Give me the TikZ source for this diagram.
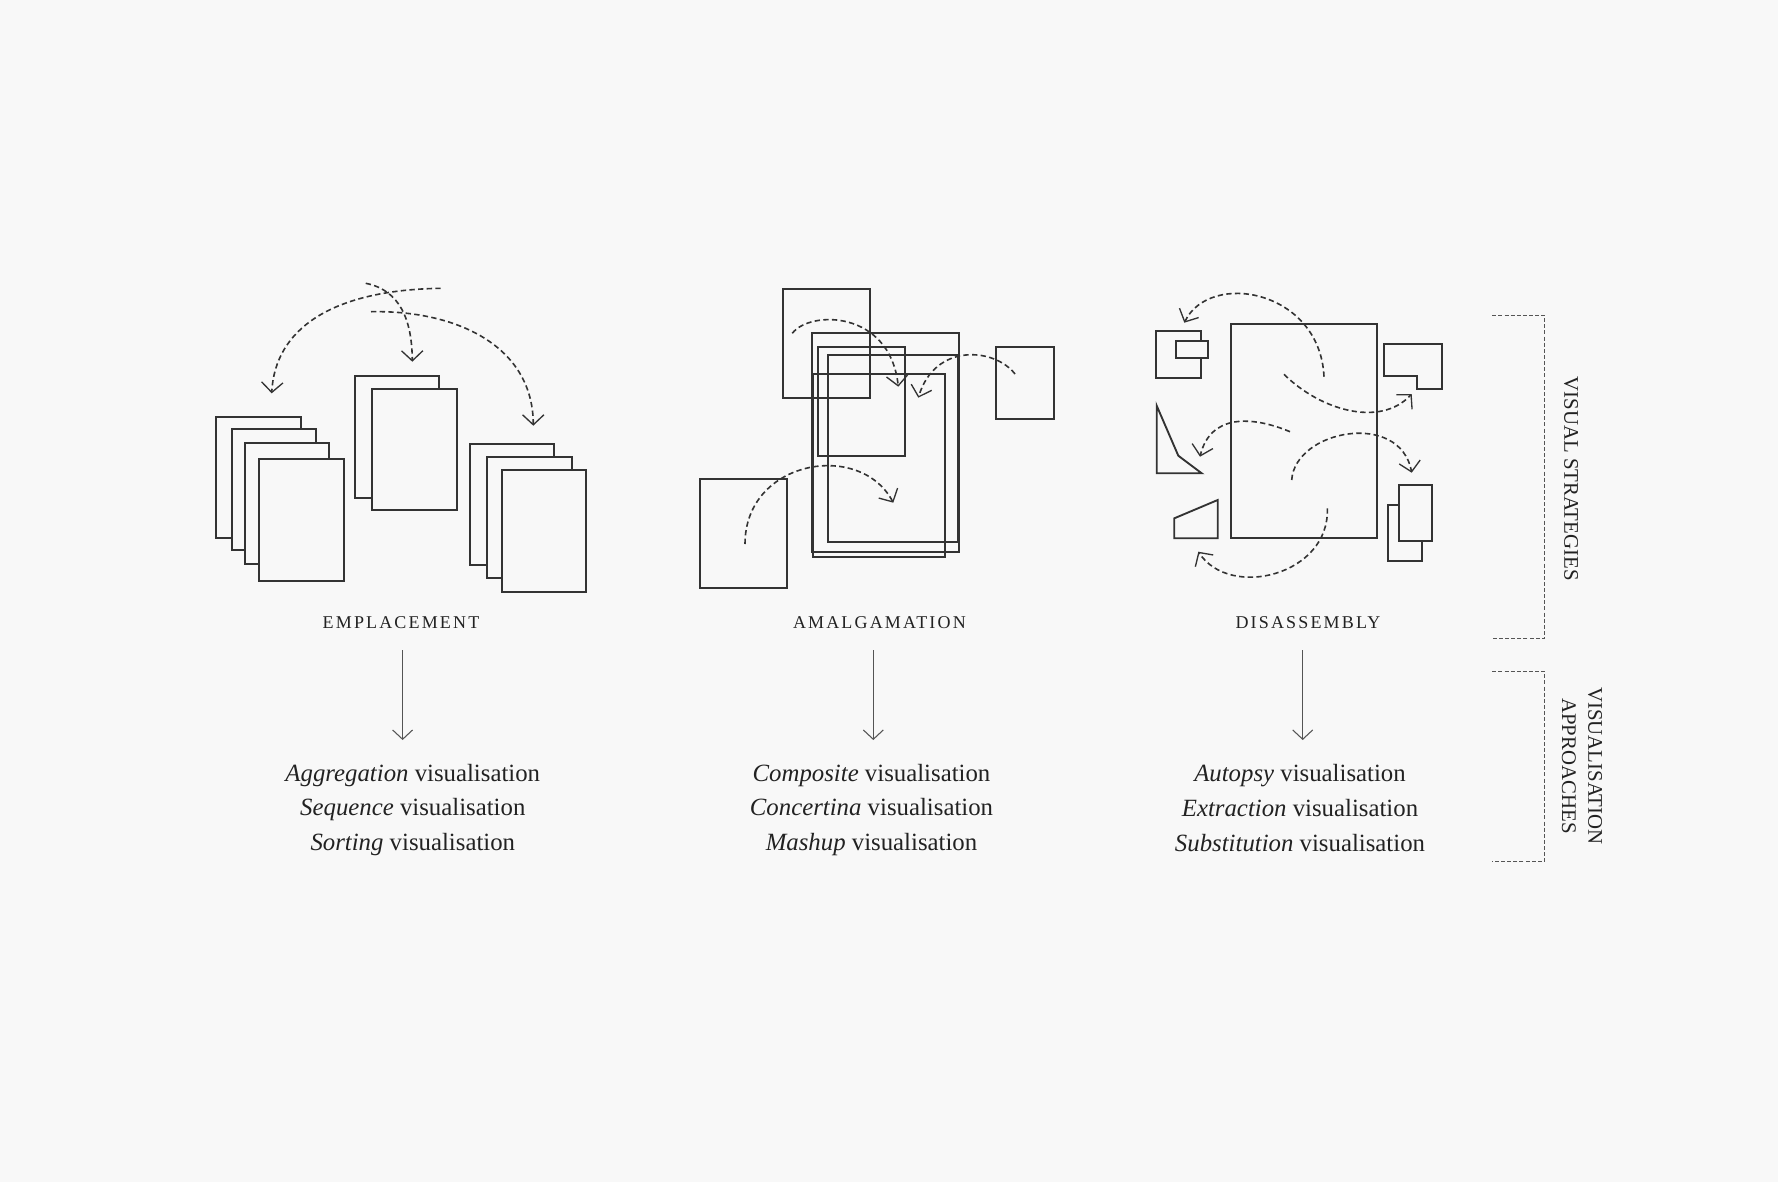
\documentclass[tikz,border=0pt]{standalone}
\usepackage{fontspec}
\setmainfont{Liberation Serif}
\usetikzlibrary{arrows.meta}
\definecolor{bg}{HTML}{F8F8F8}
\definecolor{ink}{HTML}{333333}
\definecolor{txt}{HTML}{222222}
\definecolor{soft}{HTML}{555555}
\tikzset{
  page/.style={draw=ink, line width=1.4pt, fill=bg},
  frame/.style={draw=ink, line width=1.4pt},
  move/.style={draw=ink, line width=1.2pt, dash pattern=on 4pt off 2.5pt,
    -{Straight Barb[length=7.5pt,width=16pt,line width=1pt]}},
  down/.style={draw=soft, line width=0.8pt, -{Straight Barb[length=7pt,width=15pt,line width=0.8pt]}},
  brace/.style={draw=soft, line width=1pt, dash pattern=on 3pt off 1.6pt},
  caps/.style={text=txt, font=\fontsize{13.5}{15}\selectfont\addfontfeature{LetterSpace=12}},
  approach/.style={text=txt, align=center, font=\fontsize{18.6}{26}\selectfont},
  side/.style={text=txt, rotate=-90, align=center, font=\fontsize{15.6}{19.6}\selectfont}
}
\begin{document}
\begin{tikzpicture}[x=0.75pt,y=-0.75pt]
\fill[bg] (0,0) rectangle (1778,1182);
\useasboundingbox (0,0) rectangle (1778,1182);

% ---------- EMPLACEMENT ----------
\draw[page] (216,416.7) rectangle (300.7,537.7);
\draw[page] (231.7,429) rectangle (316,550.3);
\draw[page] (245,443) rectangle (329.3,564.3);
\draw[page] (259.3,459.3) rectangle (343.7,580.7);
\draw[page] (355.3,376.3) rectangle (439.3,497.7);
\draw[page] (372.3,388.7) rectangle (456.7,510);
\draw[page] (470.3,443.7) rectangle (554.3,565.3);
\draw[page] (487.3,456.7) rectangle (571.7,577.7);
\draw[page] (502,470.3) rectangle (586,592);
\draw[move] (440.7,288.3) .. controls (330,290) and (275,330) .. (271.7,393.3);
\draw[move] (365.7,283.3) .. controls (400,290) and (412,320) .. (412.3,361.7);
\draw[move] (371,311.7) .. controls (455,310) and (533,345) .. (533.3,425.7);

% ---------- AMALGAMATION ----------
\draw[frame] (783,289) rectangle (870,397.7);
\draw[frame] (812.3,333) rectangle (958.7,551.7);
\draw[frame] (818.3,347.3) rectangle (905,456);
\draw[frame] (828,355) rectangle (957.7,541.7);
\draw[frame] (812.7,374) rectangle (945,557.3);
\draw[frame] (996.3,347.3) rectangle (1053.7,419);
\draw[frame] (700,478.7) rectangle (786.7,587.7);
\draw[move] (792.3,333.3) .. controls (810,310) and (890,310) .. (898.3,386.7);
\draw[move] (1015,374) .. controls (995,348) and (935,342) .. (918.3,397.7);
\draw[move] (745,544) .. controls (745,460) and (860,440) .. (893.3,502.7);

% ---------- DISASSEMBLY ----------
\draw[frame] (1230.7,324) rectangle (1377.3,538.3);
\draw[page] (1156,331.3) rectangle (1201.3,377.7);
\draw[page] (1175.7,341.3) rectangle (1208.3,358);
\draw[frame] (1384.3,343.7) -- (1442.3,343.7) -- (1442.3,389.3) -- (1416.7,389.3)
  -- (1416.7,376.3) -- (1384.3,376.3) -- cycle;
\draw[frame, line join=miter] (1156.7,405.7) -- (1178.3,455.7) -- (1201.7,473.3) -- (1156.7,473.3) -- cycle;
\draw[frame] (1174.3,518.3) -- (1217.7,500) -- (1217.7,538.3) -- (1174.3,538.3) -- cycle;
\draw[page] (1387.7,505) rectangle (1422,561);
\draw[page] (1399.3,485) rectangle (1432.3,540.7);
\draw[move] (1324,376.7) .. controls (1320,290) and (1210,270) .. (1184.3,322.7);
\draw[move] (1284,374.3) .. controls (1320,410) and (1380,428) .. (1411.7,394);
\draw[move] (1290,431.7) .. controls (1250,415) and (1210,415) .. (1200,456.7);
\draw[move] (1291.7,480) .. controls (1295,430) and (1400,410) .. (1411.7,472.7);
\draw[move] (1327.3,508.3) .. controls (1330,575) and (1230,600) .. (1198.3,551.7);

% ---------- labels ----------
\node[caps] (emp) at (401,622.5) {EMPLACEMENT};
\node[caps] (ama) at (879.4,622.5) {AMALGAMATION};
\node[caps] (dis) at (1308,622.5) {DISASSEMBLY};

\coordinate (empA) at (402.6,650); \coordinate (empB) at (402.6,740);
\coordinate (amaA) at (873.3,650); \coordinate (amaB) at (873.3,740);
\coordinate (disA) at (1302.7,650); \coordinate (disB) at (1302.7,740);
\draw[down] (empA) -- (empB);
\draw[down] (amaA) -- (amaB);
\draw[down] (disA) -- (disB);

\node[approach] (empT) at (412.8,810) {\textit{Aggregation} visualisation\\\textit{Sequence} visualisation\\\textit{Sorting} visualisation};
\node[approach] (amaT) at (871.5,810) {\textit{Composite} visualisation\\\textit{Concertina} visualisation\\\textit{Mashup} visualisation};
\node[approach] (disT) at (1300,808) {\textit{Autopsy} visualisation\\\textit{Extraction} visualisation\\\textit{Substitution} visualisation};

% ---------- side brackets ----------
\draw[brace] (1492.3,315.2) -- (1544.5,315.2) -- (1544.5,638.4) -- (1492.3,638.4);
\draw[brace] (1492.3,671.3) -- (1544.5,671.3) -- (1544.5,861.8) -- (1492.3,861.8);
\node[side] (vs) at (1571,478.6) {VISUAL STRATEGIES};
\node[side] (va) at (1582,766) {VISUALISATION\\APPROACHES};
\end{tikzpicture}
\end{document}
